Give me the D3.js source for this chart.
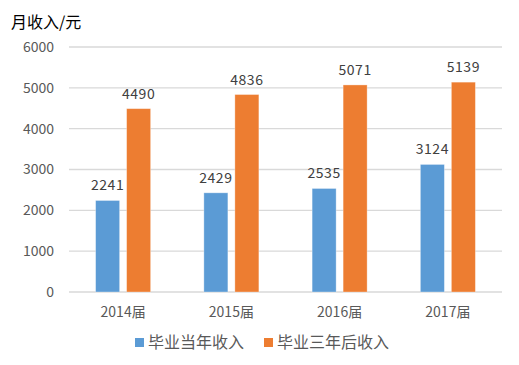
<!DOCTYPE html>
<html>
<head>
<meta charset="utf-8">
<script src="https://cdn.jsdelivr.net/npm/d3@7"></script>
<style>
  body { margin: 0; background: #fff; }
  text { font-family: "Noto Sans CJK SC", "Noto Sans", sans-serif; }
</style>
</head>
<body>
<svg id="chart" width="519" height="365"></svg>
<script>
let years = ["2014届", "2015届", "2016届", "2017届"];
let seriesNames = ["毕业当年收入", "毕业三年后收入"];
let firstYear = [2241, 2429, 2535, 3124];
let thirdYear = [4490, 4836, 5071, 5139];
let yTicks = [0, 1000, 2000, 3000, 4000, 5000, 6000];
let colors = ["#5B9BD5", "#ED7D31"];

let canvas = d3.select("#chart");
let plotLeft = 69, plotRight = 502, plotTop = 47, plotBottom = 292;

let x = d3.scaleBand()
    .domain(years)
    .range([plotLeft, plotRight]);

let y = d3.scaleLinear()
    .domain([0, 6000])
    .range([plotBottom, plotTop]);

// gridlines
canvas.append("g")
    .selectAll("line")
    .data(yTicks)
    .enter()
    .append("line")
    .attr("x1", plotLeft)
    .attr("x2", plotRight)
    .attr("y1", d => y(d))
    .attr("y2", d => y(d))
    .style("stroke", "#d9d9d9")
    .style("stroke-width", 1.3);

// y axis labels
let yAxis = canvas.append("g")
    .attr("transform", "translate(" + (plotLeft - 15) + ",0)")
    .call(d3.axisLeft(y).tickValues(yTicks).tickFormat(d3.format("d")).tickSize(0).tickPadding(0));
yAxis.select(".domain").remove();
yAxis.selectAll("text")
    .style("font-size", "14px")
    .style("fill", "#595959");

// x axis labels
let xAxis = canvas.append("g")
    .attr("transform", "translate(0," + plotBottom + ")")
    .call(d3.axisBottom(x).tickSize(0).tickPadding(15));
xAxis.select(".domain").remove();
xAxis.selectAll("text")
    .style("font-size", "14px")
    .style("fill", "#595959");

let barW = 24, gap = 7;
let series = [firstYear, thirdYear];

series.forEach((vals, i) => {
    let offset = i == 0 ? -(gap / 2 + barW) : gap / 2;
    let g = canvas.append("g");
    g.selectAll("rect")
        .data(vals)
        .enter()
        .append("rect")
        .attr("x", (d, j) => x(years[j]) + x.bandwidth() / 2 + offset)
        .attr("width", barW)
        .attr("y", d => y(d))
        .attr("height", d => plotBottom - y(d))
        .style("fill", colors[i])
        .style("stroke", "#fff")
        .style("stroke-opacity", 0.4)
        .style("stroke-width", 0.8);
    g.selectAll("text")
        .data(vals)
        .enter()
        .append("text")
        .attr("x", (d, j) => x(years[j]) + x.bandwidth() / 2 + offset + barW / 2)
        .attr("y", d => y(d) - 10)
        .attr("text-anchor", "middle")
        .style("font-size", "14px")
        .style("letter-spacing", "0.5px")
        .style("fill", "#404040")
        .text(d => d);
});

// title
canvas.append("text")
    .attr("x", 11)
    .attr("y", 28)
    .style("font-size", "16px")
    .style("fill", "#000")
    .text("月收入/元");

// legend
let legendX = [135, 264];
seriesNames.forEach((name, i) => {
    canvas.append("rect")
        .attr("x", legendX[i])
        .attr("y", 338)
        .attr("width", 9)
        .attr("height", 9)
        .style("fill", colors[i]);
    canvas.append("text")
        .attr("x", legendX[i] + 13)
        .attr("y", 348)
        .style("font-size", "16px")
        .style("fill", "#595959")
        .text(name);
});
</script>
</body>
</html>
